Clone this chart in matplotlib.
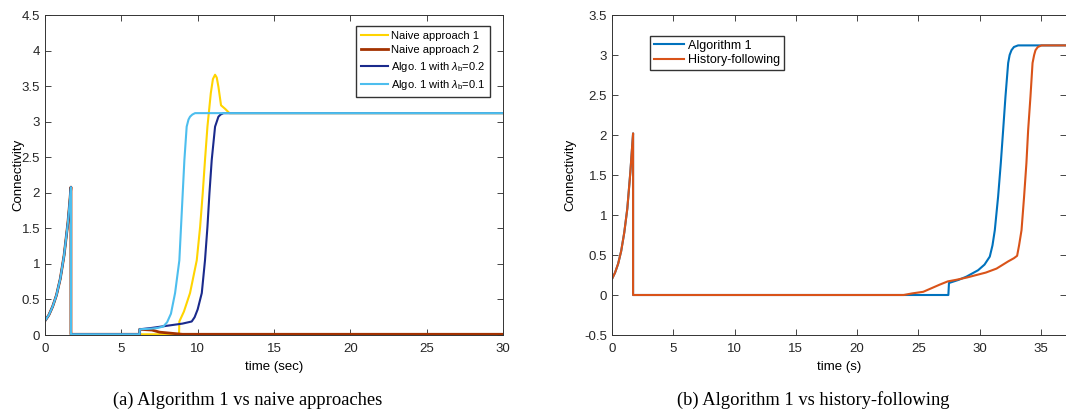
import matplotlib
matplotlib.use("Agg")
import matplotlib.pyplot as plt

plt.rcParams["font.family"] = ["Liberation Sans", "DejaVu Sans"]
plt.rcParams["mathtext.fontset"] = "custom"
plt.rcParams["mathtext.rm"] = "Liberation Sans"
plt.rcParams["mathtext.it"] = "Liberation Sans:italic"

# ---- panel (a): Algorithm 1 vs naive approaches ----
t_naive1 = [0, 0.25, 0.5, 0.75, 1.0, 1.25, 1.5, 1.6, 1.7, 1.7, 6.2, 8.78, 8.8, 9.1, 9.5,
            9.94, 10.16, 10.33, 10.48, 10.64, 10.86, 11.0, 11.14, 11.25, 11.36, 11.53,
            11.8, 12.08, 30]
c_naive1 = [0.2, 0.28, 0.40, 0.56, 0.79, 1.12, 1.58, 1.82, 2.08, 0.01, 0.01, 0.01, 0.19, 0.33,
            0.59, 1.05, 1.52, 1.99, 2.46, 2.93, 3.40, 3.6, 3.66, 3.62, 3.49, 3.23,
            3.18, 3.12, 3.12]

t_naive2 = [0, 0.25, 0.5, 0.75, 1.0, 1.25, 1.5, 1.6, 1.7, 1.7, 6.2, 6.2, 7.0, 7.5, 8.0,
            8.5, 9.0, 30]
c_naive2 = [0.2, 0.28, 0.40, 0.56, 0.79, 1.12, 1.58, 1.82, 2.08, 0.01, 0.01, 0.08, 0.07, 0.04,
            0.03, 0.02, 0.01, 0.01]

t_algo02 = [0, 0.25, 0.5, 0.75, 1.0, 1.25, 1.5, 1.6, 1.7, 1.7, 6.2, 6.2, 7.0, 8.0, 9.0, 9.61,
            9.8, 10.0, 10.27, 10.48, 10.64, 10.77, 10.92, 11.14, 11.36, 11.5, 11.69, 30]
c_algo02 = [0.2, 0.28, 0.40, 0.56, 0.79, 1.12, 1.58, 1.82, 2.08, 0.01, 0.01, 0.08, 0.1, 0.13,
            0.16, 0.19, 0.25, 0.36, 0.59, 1.05, 1.52, 1.99, 2.46, 2.93, 3.07, 3.1, 3.12, 3.12]

t_algo01 = [0, 0.25, 0.5, 0.75, 1.0, 1.25, 1.5, 1.6, 1.7, 1.7, 6.2, 6.2, 7.0, 7.4, 7.75, 8.0,
            8.25, 8.52, 8.8, 8.91, 9.02, 9.13, 9.28, 9.4, 9.5, 9.65, 9.83, 30]
c_algo01 = [0.2, 0.28, 0.40, 0.56, 0.79, 1.12, 1.58, 1.82, 2.08, 0.01, 0.01, 0.08, 0.09, 0.1,
            0.12, 0.18, 0.3, 0.59, 1.05, 1.52, 1.99, 2.46, 2.93, 3.03, 3.07, 3.1, 3.12, 3.12]

# ---- panel (b): Algorithm 1 vs history-following ----
t_alg1 = [0, 0.25, 0.5, 0.75, 1.0, 1.25, 1.5, 1.6, 1.72, 1.72, 27.45, 27.5, 28.3, 28.93, 29.88,
          30.4, 30.83, 31.05, 31.24, 31.51, 31.73, 31.92, 32.11, 32.33, 32.45, 32.6, 32.8,
          33.14, 40]
c_alg1 = [0.2, 0.28, 0.39, 0.55, 0.78, 1.08, 1.54, 1.76, 2.02, 0.0, 0.0, 0.15, 0.19, 0.23, 0.31,
          0.38, 0.48, 0.62, 0.81, 1.23, 1.65, 2.06, 2.48, 2.9, 3.0, 3.06, 3.1, 3.12, 3.12]

t_hist = [0, 0.25, 0.5, 0.75, 1.0, 1.25, 1.5, 1.6, 1.72, 1.72, 23.8, 24.5, 25.4, 26.0, 26.75,
          27.4, 28.1, 29.0, 29.74, 30.5, 31.38, 32.33, 32.8, 33.06, 33.22, 33.42, 33.63, 33.82,
          33.96, 34.15, 34.32, 34.45, 34.56, 34.75, 35.05, 40]
c_hist = [0.2, 0.28, 0.39, 0.55, 0.78, 1.08, 1.54, 1.76, 2.02, 0.0, 0.0, 0.02, 0.04, 0.08, 0.13,
          0.17, 0.19, 0.22, 0.25, 0.28, 0.33, 0.42, 0.46, 0.49, 0.62, 0.81, 1.23, 1.65,
          2.06, 2.48, 2.9, 3.0, 3.06, 3.1, 3.12, 3.12]

fig = plt.figure(figsize=(10.66, 4.19), dpi=100)
ax1 = fig.add_axes([45 / 1066, 1 - 335 / 419, 458 / 1066, 320 / 419])
ax2 = fig.add_axes([612 / 1066, 1 - 335 / 419, 454 / 1066, 320 / 419])

ax1.plot(t_naive1, c_naive1, color="#FFD400", lw=1.5, label="Naive approach 1")
ax1.plot(t_naive2, c_naive2, color="#A33200", lw=2.0, label="Naive approach 2")
ax1.plot(t_algo02, c_algo02, color="#1A2A8C", lw=1.5, label=r"Algo. 1 with $\lambda_{\rm b}$=0.2")
ax1.plot(t_algo01, c_algo01, color="#4DBEEE", lw=1.5, label=r"Algo. 1 with $\lambda_{\rm b}$=0.1")
ax1.set_xlim(0, 30)
ax1.set_ylim(0, 4.5)
ax1.set_xticks(range(0, 31, 5))
ax1.set_yticks([i * 0.5 for i in range(10)])
ax1.set_yticklabels(["0", "0.5", "1", "1.5", "2", "2.5", "3", "3.5", "4", "4.5"])
ax1.set_xlabel("time (sec)", fontsize=9.5, labelpad=4)
ax1.set_ylabel("Connectivity", fontsize=9.5, labelpad=-2)
ax1.legend(loc="upper right", bbox_to_anchor=(0.972, 0.966), borderaxespad=0, fontsize=8,
           frameon=True, fancybox=False, edgecolor="#333333", framealpha=1,
           handlelength=2.4, borderpad=0.45, labelspacing=0.4, handletextpad=0.3)

ax2.plot(t_alg1, c_alg1, color="#0072BD", lw=1.5, label="Algorithm 1")
ax2.plot(t_hist, c_hist, color="#D95319", lw=1.5, label="History-following")
ax2.set_xlim(0, 37.05)
ax2.set_ylim(-0.5, 3.5)
ax2.set_xticks(range(0, 36, 5))
ax2.set_yticks([-0.5, 0, 0.5, 1, 1.5, 2, 2.5, 3, 3.5])
ax2.set_yticklabels(["-0.5", "0", "0.5", "1", "1.5", "2", "2.5", "3", "3.5"])
ax2.set_xlabel("time (s)", fontsize=9.5, labelpad=4)
ax2.set_ylabel("Connectivity", fontsize=9.5, labelpad=6)
ax2.legend(loc="upper left", bbox_to_anchor=(0.084, 0.934), borderaxespad=0, fontsize=9,
           frameon=True, fancybox=False, edgecolor="#333333", framealpha=1,
           handlelength=2.4, borderpad=0.3, labelspacing=0.2, handletextpad=0.3)

for ax in (ax1, ax2):
    ax.tick_params(direction="in", top=True, right=True, length=4, width=0.6,
                   labelsize=9.5, colors="#262626")
    ax.tick_params(axis="x", pad=6)
    for s in ax.spines.values():
        s.set_color("#333333")
        s.set_linewidth(0.7)

fig.text(248 / 1066, 1 - 400 / 419, "(a) Algorithm 1 vs naive approaches", ha="center",
         va="center", family="Liberation Serif", fontsize=13.3)
fig.text(813 / 1066, 1 - 400 / 419, "(b) Algorithm 1 vs history-following", ha="center",
         va="center", family="Liberation Serif", fontsize=13.3)

fig.savefig("out.png", dpi=100)
